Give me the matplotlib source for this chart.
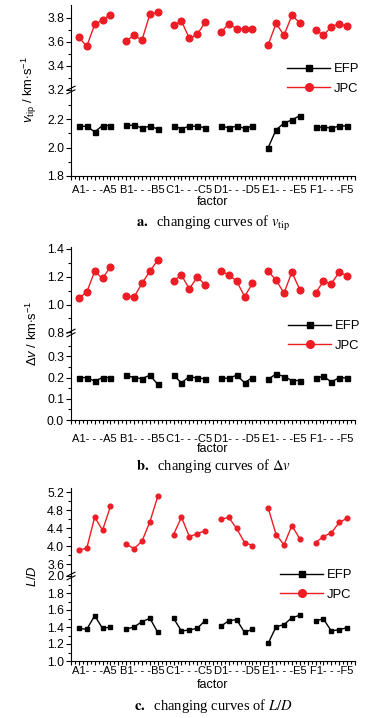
import matplotlib
matplotlib.use('Agg')
import matplotlib.pyplot as plt
import matplotlib.font_manager as fm
from matplotlib.lines import Line2D

groups = ['A', 'B', 'C', 'D', 'E', 'F']
tick_labels = [f'{g}1- - -{g}5' for g in groups]

# v_tip (km/s)
vtip_jpc = [[3.636, 3.561, 3.744, 3.781, 3.825],
            [3.608, 3.653, 3.614, 3.830, 3.844],
            [3.736, 3.772, 3.628, 3.661, 3.761],
            [3.678, 3.750, 3.708, 3.708, 3.703],
            [3.575, 3.753, 3.653, 3.819, 3.758],
            [3.700, 3.653, 3.725, 3.750, 3.728]]
vtip_efp = [[2.150, 2.150, 2.110, 2.155, 2.155],
            [2.157, 2.157, 2.138, 2.150, 2.131],
            [2.150, 2.133, 2.150, 2.150, 2.140],
            [2.150, 2.140, 2.150, 2.136, 2.150],
            [2.000, 2.126, 2.171, 2.195, 2.224],
            [2.143, 2.145, 2.136, 2.152, 2.152]]

# delta v (km/s)
dv_jpc = [[1.045, 1.090, 1.238, 1.188, 1.271],
          [1.062, 1.055, 1.152, 1.240, 1.319],
          [1.171, 1.212, 1.112, 1.198, 1.143],
          [1.243, 1.212, 1.169, 1.057, 1.152],
          [1.240, 1.174, 1.083, 1.233, 1.107],
          [1.083, 1.167, 1.150, 1.233, 1.207]]
dv_efp = [[0.200, 0.200, 0.183, 0.200, 0.200],
          [0.210, 0.200, 0.195, 0.211, 0.168],
          [0.211, 0.175, 0.205, 0.197, 0.195],
          [0.197, 0.197, 0.211, 0.176, 0.200],
          [0.192, 0.217, 0.205, 0.186, 0.186],
          [0.197, 0.206, 0.179, 0.200, 0.198]]

# L/D
ld_jpc = [[3.911, 3.956, 4.644, 4.356, 4.881],
          [4.044, 3.948, 4.111, 4.541, 5.104],
          [4.259, 4.644, 4.215, 4.274, 4.348],
          [4.600, 4.637, 4.393, 4.081, 4.015],
          [4.844, 4.259, 4.030, 4.459, 4.163],
          [4.081, 4.215, 4.296, 4.526, 4.622]]
ld_efp = [[1.384, 1.373, 1.533, 1.384, 1.400],
          [1.376, 1.400, 1.463, 1.502, 1.337],
          [1.502, 1.353, 1.365, 1.384, 1.475],
          [1.408, 1.475, 1.486, 1.337, 1.373],
          [1.208, 1.404, 1.427, 1.510, 1.537],
          [1.475, 1.494, 1.353, 1.369, 1.392]]

names = {f.name for f in fm.fontManager.ttflist}
sans = 'Liberation Sans Narrow' if 'Liberation Sans Narrow' in names else 'Liberation Sans'
plt.rcParams['font.family'] = [sans, 'DejaVu Sans']
plt.rcParams['mathtext.fontset'] = 'custom'
plt.rcParams['mathtext.rm'] = sans
plt.rcParams['mathtext.it'] = sans + ':italic'

RED = '#ee1c24'
W, H = 379, 718
fig = plt.figure(figsize=(W / 100, H / 100), dpi=100)

X0, X1 = 71, 355
FS = 8.4


def rect(top, bottom):
    return [X0 / W, 1 - bottom / H, (X1 - X0) / W, (bottom - top) / H]


def style(ax, ylim, majors, minors):
    ax.set_xlim(0, 36)
    ax.set_ylim(*ylim)
    ax.set_yticks(majors)
    ax.set_yticks(minors, minor=True)
    ax.set_yticklabels([f'{v:.1f}' for v in majors])
    ax.spines['top'].set_visible(False)
    ax.spines['right'].set_visible(False)
    ax.tick_params(axis='y', which='major', direction='out', length=3.5, width=0.8,
                   labelsize=FS + 0.4, pad=1.5)
    ax.tick_params(axis='y', which='minor', direction='out', length=2, width=0.8)
    ax.patch.set_alpha(0)


def panel(top, brk, bottom, efp, jpc, up_lim, up_maj, up_min, lo_lim, lo_maj, lo_min,
          ylabel, ylab_x, caption, ticks_y, factor_y, cap_y, leg_y, leg_x, ms_sq, ms_ci):
    ax_up = fig.add_axes(rect(top, brk))
    ax_lo = fig.add_axes(rect(brk, bottom))
    style(ax_up, up_lim, up_maj, up_min)
    style(ax_lo, lo_lim, lo_maj, lo_min)
    ax_up.spines['bottom'].set_visible(False)
    ax_up.set_xticks([])

    for g in range(len(groups)):
        xs = [g * 6 + i + 1 for i in range(5)]
        ax_up.plot(xs, jpc[g], '-o', color=RED, lw=1, ms=ms_ci, clip_on=False)
        ax_lo.plot(xs, efp[g], '-s', color='black', lw=1, ms=ms_sq, clip_on=False)

    ax_lo.set_xticks(range(0, 37))
    ax_lo.set_xticks([i + 0.5 for i in range(36)], minor=True)
    ax_lo.set_xticklabels([''] * 37)
    ax_lo.tick_params(axis='x', which='major', direction='out', length=3, width=0.8)
    ax_lo.tick_params(axis='x', which='minor', direction='out', length=2, width=0.8)
    for g, lab in enumerate(tick_labels):
        xf = (X0 + (g * 6 + 3) / 36 * (X1 - X0)) / W
        fig.text(xf, 1 - ticks_y / H, lab, ha='center', va='center', fontsize=FS - 0.4)

    cx = (X0 + X1) / 2 / W
    fig.text(cx, 1 - factor_y / H, 'factor', ha='center', va='center', fontsize=FS + 0.6)
    fig.text(cx, 1 - cap_y / H, caption, ha='center', va='center', fontsize=10.5,
             family='Liberation Serif', math_fontfamily='stix')
    fig.text(ylab_x / W, 1 - brk / H, ylabel, ha='center', va='center',
             rotation=90, fontsize=FS + 1)

    # axis break marks
    for dy in (-1.8, 1.8):
        yb = brk + dy
        fig.add_artist(Line2D([(X0 - 4) / W, (X0 + 4) / W],
                              [1 - (yb + 2) / H, 1 - (yb - 2) / H],
                              transform=fig.transFigure, color='black', lw=0.8))

    handles = [Line2D([], [], color='black', marker='s', ms=4.5, lw=1),
               Line2D([], [], color=RED, marker='o', ms=5.5, lw=1)]
    fig.legend(handles, ['EFP', 'JPC'], loc='center left', frameon=False,
               bbox_to_anchor=(leg_x / W, 1 - leg_y / H), fontsize=FS + 1,
               handlelength=3.3, handletextpad=0.3, labelspacing=0.6,
               borderpad=0, borderaxespad=0)


panel(5, 90, 176, vtip_efp, vtip_jpc,
      (3.197, 3.906), [3.2, 3.4, 3.6, 3.8], [3.3, 3.5, 3.7],
      (1.8, 2.405), [1.8, 2.0, 2.2], [1.9, 2.1, 2.3],
      r'$v_{\mathrm{tip}}$ / km$\cdot$s$^{-1}$', 29,
      r'$\mathbf{a.}$  changing curves of $v_{\mathrm{tip}}$',
      190, 202, 224, 79, 287, 3.6, 4.8)

panel(247, 333, 420, dv_efp, dv_jpc,
      (0.795, 1.414), [0.8, 1.0, 1.2, 1.4], [0.9, 1.1, 1.3],
      (0.0, 0.41), [0.0, 0.1, 0.2, 0.3], [0.05, 0.15, 0.25, 0.35],
      r'$\Delta v$ / km$\cdot$s$^{-1}$', 32,
      r'$\mathbf{b.}$  changing curves of $\Delta v$',
      438.5, 449, 466, 336, 288, 3.6, 4.8)

panel(488, 576, 661, ld_efp, ld_jpc,
      (3.34, 5.29), [3.6, 4.0, 4.4, 4.8, 5.2], [3.8, 4.2, 4.6, 5.0],
      (1.0, 2.0), [1.0, 1.2, 1.4, 1.6, 1.8, 2.0], [1.1, 1.3, 1.5, 1.7, 1.9],
      r'$L/D$', 33,
      r'$\mathbf{c.}$  changing curves of $L/D$',
      671.5, 685, 706, 585, 280, 2.9, 3.4)

fig.savefig('out.png', dpi=100)
